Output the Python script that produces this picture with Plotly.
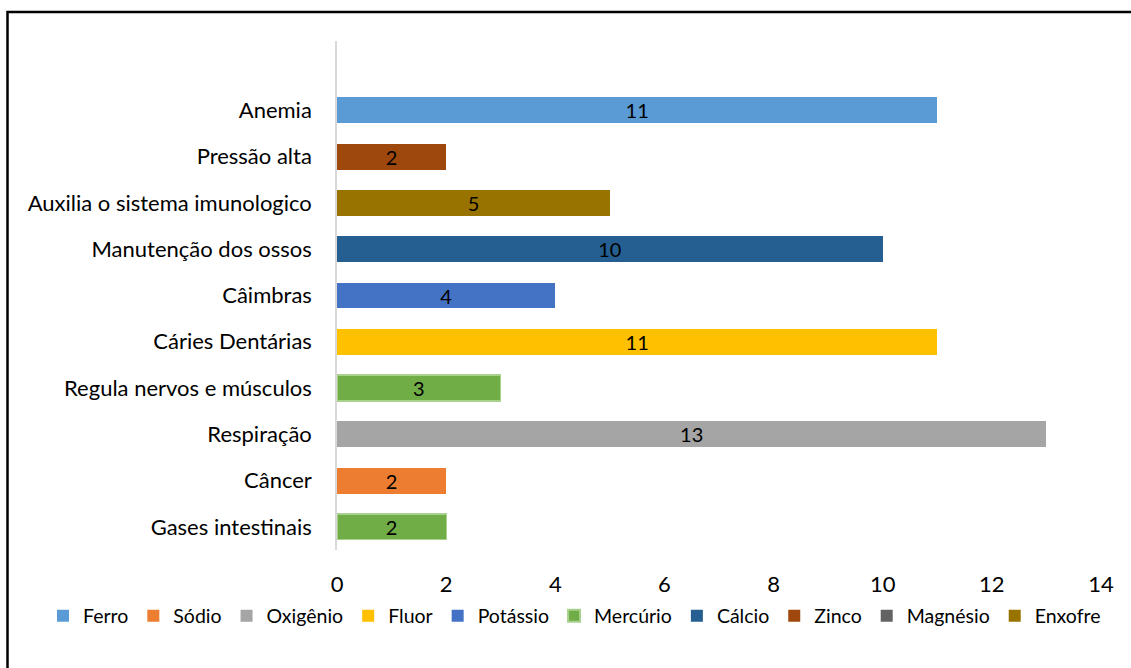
import plotly.graph_objects as go

categories = ["Gases intestinais", "Câncer", "Respiração", "Regula nervos e músculos",
              "Cáries Dentárias", "Câimbras", "Manutenção dos ossos",
              "Auxilia o sistema imunologico", "Pressão alta", "Anemia"]
values = [2, 2, 13, 3, 11, 4, 10, 5, 2, 11]
series_of_bar = ["Mercúrio", "Sódio", "Oxigênio", "Mercúrio", "Fluor", "Potássio",
                 "Cálcio", "Enxofre", "Zinco", "Ferro"]

series = ["Ferro", "Sódio", "Oxigênio", "Fluor", "Potássio", "Mercúrio",
          "Cálcio", "Zinco", "Magnésio", "Enxofre"]
colors = {"Ferro": "#5B9BD5", "Sódio": "#ED7D31", "Oxigênio": "#A5A5A5",
          "Fluor": "#FFC000", "Potássio": "#4472C4", "Mercúrio": "#70AD47",
          "Cálcio": "#255E91", "Zinco": "#9E480E", "Magnésio": "#636363",
          "Enxofre": "#997300"}
x_ticks = [0, 2, 4, 6, 8, 10, 12, 14]

FONT = "Lato"
fig = go.Figure()
for s in series:
    ys = [c for c, ser in zip(categories, series_of_bar) if ser == s]
    xs = [v for v, ser in zip(values, series_of_bar) if ser == s]
    if not xs:
        ys, xs = [categories[-1]], [None]
    line = dict(width=1.2, color="#A9D18E") if s == "Mercúrio" else dict(width=0)
    fig.add_trace(go.Bar(
        name=s, y=ys, x=xs, orientation="h",
        marker=dict(color=colors[s], line=line),
        text=[str(v) if v is not None else "" for v in xs],
        textposition="inside", insidetextanchor="middle", textangle=0,
        textfont=dict(color="black", size=20, family=FONT),
        width=0.56,
    ))

L, R, T, B = 337, 1101, 41, 550
W, H = 1131, 668
pw, ph = R - L, B - T

fig.update_layout(
    width=W, height=H,
    barmode="stack",
    paper_bgcolor="white", plot_bgcolor="white",
    margin=dict(l=L, r=W - R, t=T, b=H - B, autoexpand=False),
    font=dict(family=FONT, size=22, color="#000000"),
    uniformtext=dict(minsize=20, mode="show"),
    xaxis=dict(range=[0, 14], tickvals=x_ticks, showgrid=False, zeroline=False,
               showline=False, ticks="", ticklabelstandoff=19,
               tickfont=dict(size=22, family=FONT)),
    yaxis=dict(categoryorder="array", categoryarray=categories,
               range=[-0.5, 10.5], showgrid=False, zeroline=False,
               showline=True, linecolor="#D9D9D9", linewidth=1.5, ticks="",
               ticklabelstandoff=19, tickfont=dict(size=22, family=FONT)),
    legend=dict(orientation="h", x=(43 - L) / pw, xanchor="left",
                y=(B - 616) / ph, yanchor="middle",
                font=dict(size=19.5, family=FONT), traceorder="normal",
                itemsizing="constant", borderwidth=0),
    shapes=[dict(type="rect", xref="paper", yref="paper",
                 x0=(7.5 - L) / pw, x1=(1145 - L) / pw,
                 y0=(B - 690) / ph, y1=(B - 12) / ph,
                 line=dict(color="black", width=2.5), fillcolor="rgba(0,0,0,0)",
                 layer="below")],
)

fig.write_html("out.html", config={"displayModeBar": False},
               post_script="document.body.style.margin='0';")
